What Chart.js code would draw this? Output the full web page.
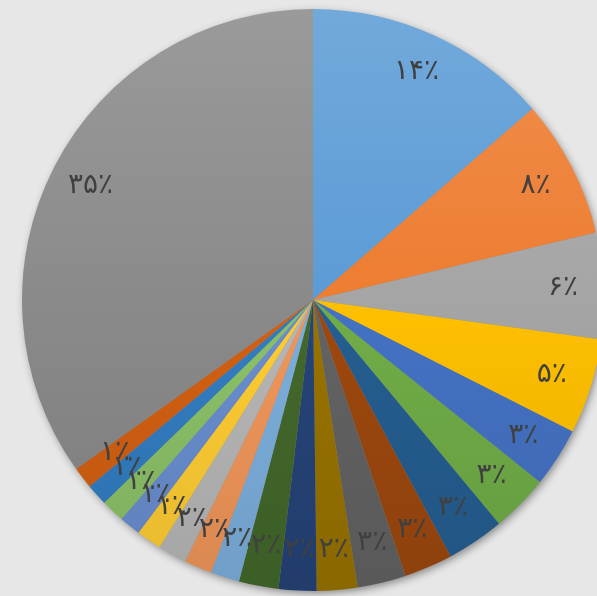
<!DOCTYPE html>
<html>
<head>
<meta charset="utf-8">
<script src="https://cdn.jsdelivr.net/npm/chart.js@4"></script>
<style>
  html, body { margin: 0; padding: 0; background: #e7e7e7; overflow: hidden; }
  #wrap { position: absolute; left: 0; top: 0; width: 626px; height: 600px; }
</style>
</head>
<body>
<div id="wrap"><canvas id="pieChart"></canvas></div>
<script>
// slice values (percent), clockwise from 12 o'clock
var sliceLabels = ['1', '2', '3', '4', '5', '6', '7', '8', '9', '10', '11',
                   '12', '13', '14', '15', '16', '17', '18', '19', '20', '21'];
var sliceValues = [13.6, 7.7, 5.9, 5.3, 3.3, 3.2, 3.2, 2.7, 2.7, 2.25, 2.1,
                   2.2, 1.6, 1.55, 1.6, 1.4, 1.2, 1.3, 1.2, 1.2, 34.9];
var sliceColors = ['#5B9BD5', '#ED7D31', '#A5A5A5', '#FFC000', '#4472C4', '#70AD47',
                   '#255E91', '#9E480E', '#636363', '#997300', '#264478', '#43682B',
                   '#7CAFDD', '#F1975A', '#B7B7B7', '#FFCD33', '#698ED0', '#8CC168',
                   '#327DC2', '#D26012', '#8A8A8A'];

var persianDigits = ['۰', '۱', '۲', '۳', '۴', '۵', '۶', '۷', '۸', '۹'];
function toPersian(n) {
    return String(n).split('').map(function(d) { return persianDigits[+d]; }).join('');
}

function shade(hex, amt) {
    var r = parseInt(hex.substr(1, 2), 16), g = parseInt(hex.substr(3, 2), 16), b = parseInt(hex.substr(5, 2), 16);
    function f(c) {
        c = amt > 0 ? c + (255 - c) * amt : c * (1 + amt);
        return Math.round(Math.max(0, Math.min(255, c)));
    }
    return 'rgb(' + f(r) + ',' + f(g) + ',' + f(b) + ')';
}

// drop shadow under the pie
var pieShadow = {
    id: 'pieShadow',
    beforeDatasetsDraw: function(chart) {
        var arc = chart.getDatasetMeta(0).data[0];
        if (!arc) return;
        var ctx = chart.ctx;
        ctx.save();
        ctx.shadowColor = 'rgba(0,0,0,0.45)';
        ctx.shadowBlur = 9;
        ctx.shadowOffsetX = 2;
        ctx.shadowOffsetY = 3;
        ctx.fillStyle = '#888';
        ctx.beginPath();
        ctx.arc(arc.x, arc.y, arc.outerRadius - 1, 0, Math.PI * 2);
        ctx.fill();
        ctx.restore();
    }
};

// percent labels inside the slices
var pctLabels = {
    id: 'pctLabels',
    afterDatasetsDraw: function(chart) {
        var ctx = chart.ctx;
        var total = sliceValues.reduce(function(a, b) { return a + b; }, 0);
        ctx.save();
        ctx.font = '28px "DejaVu Sans"';
        ctx.fillStyle = '#404040';
        ctx.textAlign = 'center';
        ctx.textBaseline = 'middle';
        chart.getDatasetMeta(0).data.forEach(function(arc, i) {
            var mid = (arc.startAngle + arc.endAngle) / 2;
            var r = arc.outerRadius * 0.86;
            var txt = toPersian(Math.round(sliceValues[i] / total * 100)) + '٪';
            ctx.fillText(txt, arc.x + Math.cos(mid) * r, arc.y + Math.sin(mid) * r);
        });
        ctx.restore();
    }
};

var ctx = document.getElementById('pieChart').getContext('2d');
new Chart(ctx, {
    type: 'pie',
    data: {
        labels: sliceLabels,
        datasets: [{
            data: sliceValues,
            backgroundColor: function(context) {
                var area = context.chart.chartArea;
                var base = sliceColors[context.dataIndex];
                if (!area) return base;
                var g = context.chart.ctx.createLinearGradient(0, area.top, 0, area.bottom);
                g.addColorStop(0, shade(base, 0.14));
                g.addColorStop(0.5, base);
                g.addColorStop(1, shade(base, -0.1));
                return g;
            },
            borderWidth: 0
        }]
    },
    options: {
        responsive: true,
        maintainAspectRatio: false,
        animation: false,
        layout: { padding: { top: 9, bottom: 9, left: 0, right: 0 } },
        plugins: {
            legend: { display: false },
            tooltip: { enabled: false }
        }
    },
    plugins: [pieShadow, pctLabels]
});
</script>
</body>
</html>
